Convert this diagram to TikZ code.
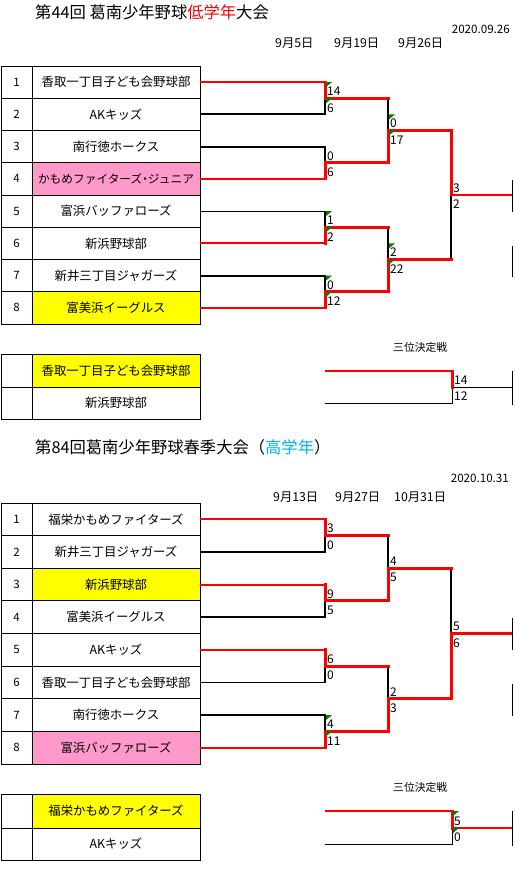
\documentclass[tikz,border=0pt]{standalone}
\usepackage{fontspec}
\setmainfont{Noto Sans CJK JP}
\definecolor{xred}{RGB}{255,0,0}
\definecolor{xyellow}{RGB}{255,255,0}
\definecolor{xpink}{RGB}{255,153,204}
\definecolor{xcyan}{RGB}{0,176,240}
\definecolor{xgreen}{RGB}{0,128,0}
\begin{document}
\begin{tikzpicture}[x=1pt,y=-1pt,
  namecell/.style={draw,line width=0.8pt,minimum width=168pt,minimum height=#1,inner sep=0pt,outer sep=0pt,font=\fontsize{12.4}{13}\selectfont},
  numcell/.style={draw,line width=0.8pt,minimum width=31pt,minimum height=#1,inner sep=0pt,outer sep=0pt,font=\fontsize{11.5}{12}\selectfont},
  win/.style={xred,line width=3pt,line cap=rect},
  winh/.style={xred,line width=2pt},
  lose/.style={black,line width=1.8pt},
  losethin/.style={black,line width=1pt},
  score/.style={anchor=west,inner sep=0pt,font=\fontsize{12}{13}\selectfont},
  datelbl/.style={anchor=west,inner sep=0pt,font=\fontsize{12.3}{13}\selectfont},
  ttl/.style={anchor=west,inner sep=0pt,font=\fontsize{16.3}{17}\selectfont},
  tri/.style={fill=xgreen}]
\useasboundingbox (0,0) rectangle (514,877);
\fill[white] (0,0) rectangle (514,877);

% ================= TOP TOURNAMENT =================
\node[ttl] (title1) at (35,12) {第44回 葛南少年野球\textcolor{xred}{低学年}大会};
\node[anchor=east,inner sep=0pt,font=\fontsize{11.6}{12}\selectfont] (date1) at (510,29) {2020.09.26};
\node[datelbl] (d11) at (275,43) {9月5日};
\node[datelbl] (d12) at (334,43) {9月19日};
\node[datelbl] (d13) at (398,43) {9月26日};

\foreach \i/\name/\col in {1/香取一丁目子ども会野球部/white,2/AKキッズ/white,3/南行徳ホークス/white,4/{\fontsize{11.7}{13}\selectfont かもめファイターズ\kern-3pt・\kern-3pt ジュニア}/xpink,5/富浜バッファローズ/white,6/新浜野球部/white,7/新井三丁目ジャガーズ/white,8/富美浜イーグルス/xyellow}{
  \node[numcell=32.25pt] (tn\i) at (16.5,{66+32.25*(\i-0.5)}) {\i};
  \node[namecell=32.25pt,fill=\col] (t\i) at (116,{66+32.25*(\i-0.5)}) {\name};
  \coordinate (tp\i) at (325,{66+32.25*(\i-0.5)});
}
\coordinate (tm1) at (325,98.25);  \coordinate (tq1) at (388,98.25);
\coordinate (tm2) at (325,162.75); \coordinate (tq2) at (388,162.75);
\coordinate (tm3) at (325,227.25); \coordinate (tq3) at (388,227.25);
\coordinate (tm4) at (325,291.75); \coordinate (tq4) at (388,291.75);
\coordinate (tn1) at (388,130.5);  \coordinate (ts1) at (451,130.5);
\coordinate (tn2) at (388,259.5);  \coordinate (ts2) at (451,259.5);
\coordinate (tf) at (451,195);     \coordinate (tfe) at (512,195);
\coordinate (tb1) at (512,180); \coordinate (tb2) at (512,212);
\coordinate (tb3) at (512,246); \coordinate (tb4) at (512,277);

% black (losing) lines
\draw[lose] (t2.east) -- (tp2) -- (tm1);
\draw[lose] (t3.east) -- (tp3) -- (tm2);
\draw[losethin] (t5.east) -- (tp5);
\draw[lose] (tp5) -- (tm3);
\draw[lose] (t7.east) -- (tp7) -- (tm4);
\draw[lose] (tq1) -- (tn1);
\draw[lose] (tq3) -- (tn2);
\draw[lose] (tf) -- (ts2);
\draw[losethin] (tb1) -- (tb2);
\draw[losethin] (tb3) -- (tb4);
% red (winning) lines
\draw[winh] (t1.east) -- (tp1);
\draw[winh] (t4.east) -- (tp4);
\draw[winh] (t6.east) -- (tp6);
\draw[winh] (t8.east) -- (tp8);
\draw[win] (tp1) -- (tm1);
\draw[win] (tp4) -- (tm2);
\draw[win] (tp6) -- (tm3);
\draw[win] (tp8) -- (tm4);
\draw[win] (tm1) -- (tq1);
\draw[win] (tm2) -- (tq2);
\draw[win] (tm3) -- (tq3);
\draw[win] (tm4) -- (tq4);
\draw[win] (tq2) -- (tn1) -- (ts1);
\draw[win] (tq4) -- (tn2) -- (ts2);
\draw[win] (ts1) -- (tf);
\draw[xred,line width=1.6pt] (tf) -- (tfe);

% scores
\node[score] (sa1) at (327,{98.25-7}) {14};   \node[score] (sa2) at (327,{98.25+9.5}) {6};
\node[score] (sb1) at (327,{162.75-7}) {0};   \node[score] (sb2) at (327,{162.75+9.5}) {6};
\node[score] (sc1) at (327,{227.25-7}) {1};   \node[score] (sc2) at (327,{227.25+9.5}) {2};
\node[score] (sd1) at (327,{291.75-7}) {0};   \node[score] (sd2) at (327,{291.75+9.5}) {12};
\node[score] (se1) at (390,{130.5-7}) {0};    \node[score] (se2) at (390,{130.5+9.5}) {17};
\node[score] (sf1) at (390,{259.5-7}) {2};    \node[score] (sf2) at (390,{259.5+9.5}) {22};
\node[score] (sg1) at (453,{195-7}) {3};      \node[score] (sg2) at (453,{195+9.5}) {2};
% green indicators
\foreach \x/\y in {326/82.1,326/98.25,326/211.1,326/227.25,326/275.6,326/291.75,389/114.4,389/130.5,389/243.4,389/259.5}{
  \fill[tri] (\x,\y) -- ++(6,0) -- ++(-6,5) -- cycle;
}

% third place (top)
\node[anchor=west,inner sep=0pt,font=\fontsize{10.8}{12}\selectfont] (tpl1) at (393,347) {三位決定戦};
\node[numcell=33pt] (tx1n) at (16.5,370.5) {};
\node[namecell=33pt,fill=xyellow] (tx1) at (116,370.5) {香取一丁目子ども会野球部};
\node[numcell=32pt] (tx2n) at (16.5,403) {};
\node[namecell=32pt] (tx2) at (116,403) {新浜野球部};
\coordinate (tya) at (325,371); \coordinate (tyb) at (452,371);
\coordinate (tyc) at (325,403); \coordinate (tyd) at (452,403);
\coordinate (tym) at (452,387); \coordinate (tye) at (512,387);
\coordinate (tyt) at (512,371); \coordinate (tyu) at (512,405);
\draw[losethin] (tyc) -- (tyd) -- (tym);
\draw[losethin] (tym) -- (tye);
\draw[losethin] (tyt) -- (tyu);
\draw[winh] (tya) -- (tyb);
\draw[win] (tyb) -- (tym);
\node[score] (sh1) at (454,380) {14};  \node[score] (sh2) at (454,396.5) {12};

% ================= BOTTOM TOURNAMENT =================
\node[ttl] (title2) at (35,447) {第84回葛南少年野球春季大会（\textcolor{xcyan}{高学年}）};
\node[anchor=east,inner sep=0pt,font=\fontsize{11.6}{12}\selectfont] (date2) at (509,478) {2020.10.31};
\node[datelbl] (d21) at (273,497) {9月13日};
\node[datelbl] (d22) at (335,497) {9月27日};
\node[datelbl] (d23) at (394,497) {10月31日};

\foreach \i/\name/\col in {1/福栄かもめファイターズ/white,2/新井三丁目ジャガーズ/white,3/新浜野球部/xyellow,4/富美浜イーグルス/white,5/AKキッズ/white,6/香取一丁目子ども会野球部/white,7/南行徳ホークス/white,8/富浜バッファローズ/xpink}{
  \node[numcell=32.625pt] (bn\i) at (16.5,{503+32.625*(\i-0.5)}) {\i};
  \node[namecell=32.625pt,fill=\col] (b\i) at (116,{503+32.625*(\i-0.5)}) {\name};
  \coordinate (bp\i) at (325,{503+32.625*(\i-0.5)});
}
\coordinate (bm1) at (325,535.6);  \coordinate (bq1) at (388,535.6);
\coordinate (bm2) at (325,600.9);  \coordinate (bq2) at (388,600.9);
\coordinate (bm3) at (325,666.1);  \coordinate (bq3) at (388,666.1);
\coordinate (bm4) at (325,731.4);  \coordinate (bq4) at (388,731.4);
\coordinate (bn1) at (388,568.25); \coordinate (bs1) at (451,568.25);
\coordinate (bn2) at (388,698.75); \coordinate (bs2) at (451,698.75);
\coordinate (bf) at (451,633.5);   \coordinate (bfe) at (512,633.5);
\coordinate (bb1) at (512,618); \coordinate (bb2) at (512,650);
\coordinate (bb3) at (512,684); \coordinate (bb4) at (512,716);

\draw[lose] (b2.east) -- (bp2) -- (bm1);
\draw[lose] (b4.east) -- (bp4) -- (bm2);
\draw[lose] (b6.east) -- (bp6) -- (bm3);
\draw[lose] (b7.east) -- (bp7) -- (bm4);
\draw[lose] (bq1) -- (bn1);
\draw[lose] (bq3) -- (bn2);
\draw[lose] (bs1) -- (bf);
\draw[losethin] (bb1) -- (bb2);
\draw[losethin] (bb3) -- (bb4);
\draw[winh] (b1.east) -- (bp1);
\draw[winh] (b3.east) -- (bp3);
\draw[winh] (b5.east) -- (bp5);
\draw[winh] (b8.east) -- (bp8);
\draw[win] (bp1) -- (bm1);
\draw[win] (bp3) -- (bm2);
\draw[win] (bp5) -- (bm3);
\draw[win] (bp8) -- (bm4);
\draw[win] (bm1) -- (bq1);
\draw[win] (bm2) -- (bq2);
\draw[win] (bm3) -- (bq3);
\draw[win] (bm4) -- (bq4);
\draw[win] (bq2) -- (bn1) -- (bs1);
\draw[win] (bq4) -- (bn2) -- (bs2);
\draw[win] (bs2) -- (bf);
\draw[xred,line width=2.4pt] (bf) -- (bfe);

\node[score] (ta1) at (327,{535.6-7}) {3};    \node[score] (ta2) at (327,{535.6+9.5}) {0};
\node[score] (tb1s) at (327,{600.9-7}) {9};   \node[score] (tb2s) at (327,{600.9+9.5}) {5};
\node[score] (tc1) at (327,{666.1-7}) {6};    \node[score] (tc2) at (327,{666.1+9.5}) {0};
\node[score] (td1) at (327,{731.4-7}) {4};    \node[score] (td2) at (327,{731.4+9.5}) {11};
\node[score] (te1) at (390,{568.25-7}) {4};   \node[score] (te2) at (390,{568.25+9.5}) {5};
\node[score] (tf1) at (390,{698.75-7}) {2};   \node[score] (tf2) at (390,{698.75+9.5}) {3};
\node[score] (tg1) at (453,{633.5-7}) {5};    \node[score] (tg2) at (453,{633.5+9.5}) {6};
\foreach \x/\y in {326/715.1,326/731.4}{
  \fill[tri] (\x,\y) -- ++(6,0) -- ++(-6,5) -- cycle;
}

% third place (bottom)
\node[anchor=west,inner sep=0pt,font=\fontsize{10.8}{12}\selectfont] (bpl1) at (393,787) {三位決定戦};
\node[numcell=34pt] (bx1n) at (16.5,811) {};
\node[namecell=34pt,fill=xyellow] (bx1) at (116,811) {福栄かもめファイターズ};
\node[numcell=32pt] (bx2n) at (16.5,844) {};
\node[namecell=32pt] (bx2) at (116,844) {AKキッズ};
\coordinate (bya) at (325,811); \coordinate (byb) at (452,811);
\coordinate (byc) at (325,844); \coordinate (byd) at (452,844);
\coordinate (bym) at (452,828); \coordinate (bye) at (512,828);
\coordinate (byt) at (512,811); \coordinate (byu) at (512,846);
\draw[losethin] (byc) -- (byd) -- (bym);
\draw[losethin] (byt) -- (byu);
\draw[winh] (bya) -- (byb);
\draw[win] (byb) -- (bym);
\draw[xred,line width=1.6pt] (bym) -- (bye);
\node[score] (si1) at (454,821) {5};  \node[score] (si2) at (454,837.5) {0};
\foreach \x/\y in {453/811,453/828}{
  \fill[tri] (\x,\y) -- ++(6,0) -- ++(-6,5) -- cycle;
}
\end{tikzpicture}
\end{document}
